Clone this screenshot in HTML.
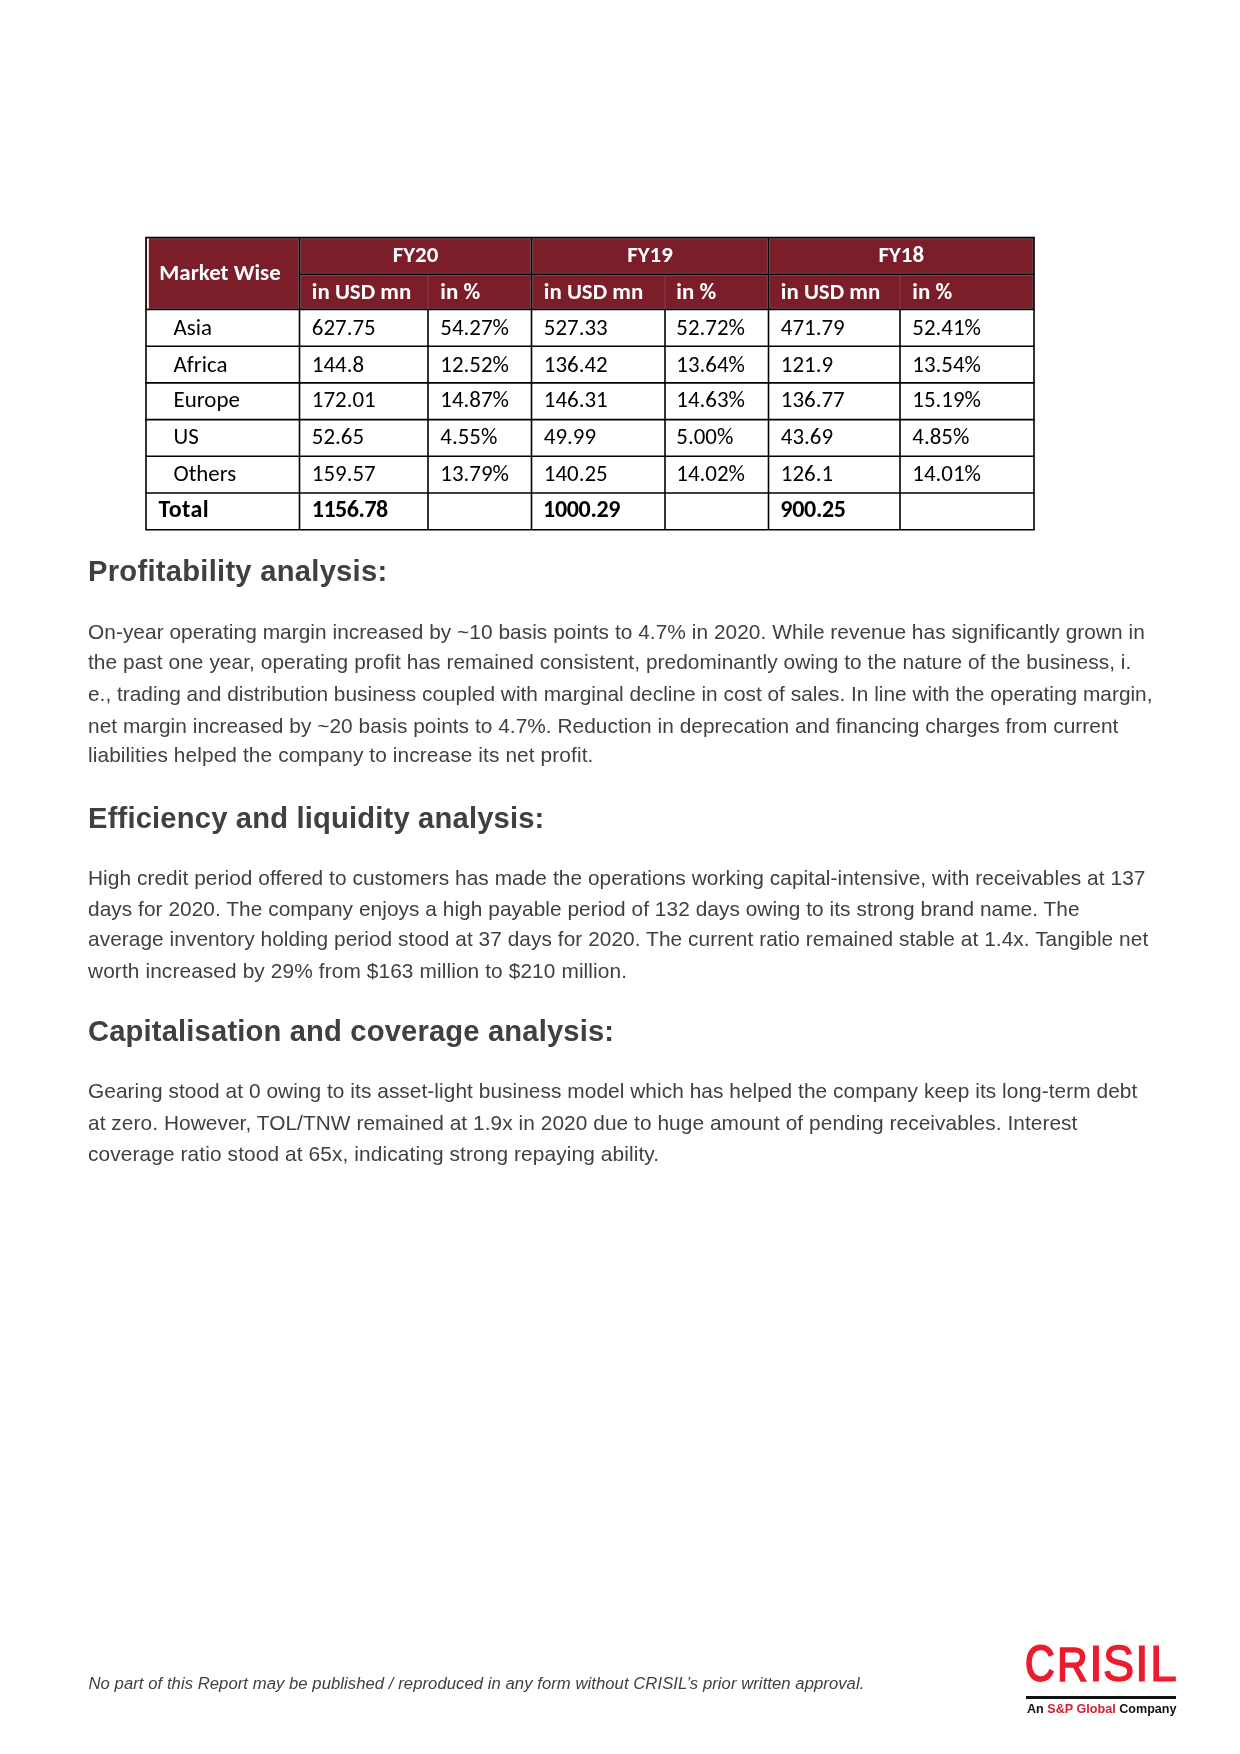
<!DOCTYPE html>
<html lang="en"><head><meta charset="utf-8"><title>CRISIL Report</title>
<style>
*{margin:0;padding:0;box-sizing:border-box}
html,body{width:1240px;height:1754px;background:#fff;overflow:hidden}
body{position:relative}
.page{position:absolute;left:0;top:0;width:1240px;height:1754px;will-change:transform}
.grid{position:absolute;left:0;top:0}
.th,.td{position:absolute;white-space:nowrap;font-family:"Carlito","Liberation Sans",sans-serif;font-size:22.92px;line-height:22.92px}
.th{color:#fff;font-weight:bold}
.td{color:#000}
.b{font-weight:bold}
.c{text-align:center}
.h,.p,.f{position:absolute;white-space:nowrap;font-family:"Liberation Sans",Arial,sans-serif;color:#404040}
.h{font-size:29.17px;line-height:29.17px;font-weight:bold}
.p{font-size:20.83px;line-height:20.83px}
.f{font-size:16.67px;line-height:16.67px;font-style:italic}
.crisil{position:absolute;left:0;top:0;width:1240px;height:0}
.cl{position:absolute;top:0;font-family:"Liberation Sans",Arial,sans-serif;font-size:50px;line-height:50px;color:#ed1b2e;-webkit-text-stroke:1.2px #ed1b2e;white-space:nowrap;transform-origin:0 0}
.bar{position:absolute;left:1026px;top:1696px;width:150px;height:3px;background:#111}
.sp{position:absolute;left:1027px;top:1702px;font-family:"Liberation Sans",Arial,sans-serif;font-weight:bold;font-size:12.6px;line-height:14px;color:#111;white-space:nowrap}
.sp .r{color:#d4202f}
</style></head>
<body>
<div class="page">
<svg class="grid" width="1240" height="600" viewBox="0 0 1240 600"><rect x="146" y="237.5" width="888" height="72.0" fill="#7b1e2a"/><rect x="146.8" y="238.3" width="2" height="70.4" fill="#fff"/><line x1="428" y1="274.4" x2="428" y2="309.5" stroke="#8e3a44" stroke-width="1"/><line x1="665" y1="274.4" x2="665" y2="309.5" stroke="#8e3a44" stroke-width="1"/><line x1="900" y1="274.4" x2="900" y2="309.5" stroke="#8e3a44" stroke-width="1"/><clipPath id="hc"><rect x="148.8" y="237.5" width="885.2" height="72.0"/></clipPath><g clip-path="url(#hc)"><line x1="299.5" y1="274.4" x2="1034" y2="274.4" stroke="#6f4a52" stroke-width="3.4"/><line x1="299.5" y1="237.5" x2="299.5" y2="309.5" stroke="#6f4a52" stroke-width="3.4"/><line x1="531.5" y1="237.5" x2="531.5" y2="309.5" stroke="#6f4a52" stroke-width="3.4"/><line x1="768.5" y1="237.5" x2="768.5" y2="309.5" stroke="#6f4a52" stroke-width="3.4"/><line x1="1034" y1="237.5" x2="1034" y2="309.5" stroke="#6f4a52" stroke-width="3.4"/><line x1="149" y1="237.5" x2="1034" y2="237.5" stroke="#6f4a52" stroke-width="3.4"/><line x1="149" y1="309.5" x2="1034" y2="309.5" stroke="#6f4a52" stroke-width="3.4"/></g><line x1="145.2" y1="237.5" x2="1034.8" y2="237.5" stroke="#000" stroke-width="1.6"/><line x1="299.5" y1="274.4" x2="1034" y2="274.4" stroke="#000" stroke-width="1.2"/><line x1="145.2" y1="309.5" x2="1034.8" y2="309.5" stroke="#000" stroke-width="1.6"/><line x1="145.2" y1="346.2" x2="1034.8" y2="346.2" stroke="#000" stroke-width="1.6"/><line x1="145.2" y1="382.9" x2="1034.8" y2="382.9" stroke="#000" stroke-width="1.6"/><line x1="145.2" y1="419.6" x2="1034.8" y2="419.6" stroke="#000" stroke-width="1.6"/><line x1="145.2" y1="456.3" x2="1034.8" y2="456.3" stroke="#000" stroke-width="1.6"/><line x1="145.2" y1="493.0" x2="1034.8" y2="493.0" stroke="#000" stroke-width="1.6"/><line x1="145.2" y1="529.7" x2="1034.8" y2="529.7" stroke="#000" stroke-width="1.6"/><line x1="146" y1="237.5" x2="146" y2="309.5" stroke="#000" stroke-width="1.6"/><line x1="146" y1="309.5" x2="146" y2="529.7" stroke="#000" stroke-width="1.6"/><line x1="299.5" y1="237.5" x2="299.5" y2="309.5" stroke="#000" stroke-width="1.2"/><line x1="299.5" y1="309.5" x2="299.5" y2="529.7" stroke="#000" stroke-width="1.6"/><line x1="428" y1="309.5" x2="428" y2="529.7" stroke="#000" stroke-width="1.6"/><line x1="531.5" y1="237.5" x2="531.5" y2="309.5" stroke="#000" stroke-width="1.2"/><line x1="531.5" y1="309.5" x2="531.5" y2="529.7" stroke="#000" stroke-width="1.6"/><line x1="665" y1="309.5" x2="665" y2="529.7" stroke="#000" stroke-width="1.6"/><line x1="768.5" y1="237.5" x2="768.5" y2="309.5" stroke="#000" stroke-width="1.2"/><line x1="768.5" y1="309.5" x2="768.5" y2="529.7" stroke="#000" stroke-width="1.6"/><line x1="900" y1="309.5" x2="900" y2="529.7" stroke="#000" stroke-width="1.6"/><line x1="1034" y1="237.5" x2="1034" y2="309.5" stroke="#000" stroke-width="1.6"/><line x1="1034" y1="309.5" x2="1034" y2="529.7" stroke="#000" stroke-width="1.6"/></svg>
<div class="th" style="left:159.30px;top:261.02px">Market Wise</div>
<div class="th c" style="left:299.50px;width:232.00px;top:242.65px">FY20</div>
<div class="th c" style="left:531.50px;width:237.00px;top:242.65px">FY19</div>
<div class="th c" style="left:768.50px;width:265.50px;top:242.65px">FY18</div>
<div class="th" style="left:311.80px;top:280.32px">in USD mn</div>
<div class="th" style="left:440.30px;top:280.32px">in %</div>
<div class="th" style="left:543.80px;top:280.32px">in USD mn</div>
<div class="th" style="left:676.30px;top:280.32px">in %</div>
<div class="th" style="left:780.80px;top:280.32px">in USD mn</div>
<div class="th" style="left:912.30px;top:280.32px">in %</div>
<div class="td" style="left:173.50px;top:316.12px">Asia</div>
<div class="td" style="left:311.80px;top:316.12px">627.75</div>
<div class="td" style="left:440.30px;top:316.12px">54.27%</div>
<div class="td" style="left:543.80px;top:316.12px">527.33</div>
<div class="td" style="left:676.30px;top:316.12px">52.72%</div>
<div class="td" style="left:780.80px;top:316.12px">471.79</div>
<div class="td" style="left:912.30px;top:316.12px">52.41%</div>
<div class="td" style="left:173.50px;top:352.92px">Africa</div>
<div class="td" style="left:311.80px;top:352.92px">144.8</div>
<div class="td" style="left:440.30px;top:352.92px">12.52%</div>
<div class="td" style="left:543.80px;top:352.92px">136.42</div>
<div class="td" style="left:676.30px;top:352.92px">13.64%</div>
<div class="td" style="left:780.80px;top:352.92px">121.9</div>
<div class="td" style="left:912.30px;top:352.92px">13.54%</div>
<div class="td" style="left:173.50px;top:387.92px">Europe</div>
<div class="td" style="left:311.80px;top:387.92px">172.01</div>
<div class="td" style="left:440.30px;top:387.92px">14.87%</div>
<div class="td" style="left:543.80px;top:387.92px">146.31</div>
<div class="td" style="left:676.30px;top:387.92px">14.63%</div>
<div class="td" style="left:780.80px;top:387.92px">136.77</div>
<div class="td" style="left:912.30px;top:387.92px">15.19%</div>
<div class="td" style="left:173.50px;top:424.52px">US</div>
<div class="td" style="left:311.80px;top:424.52px">52.65</div>
<div class="td" style="left:440.30px;top:424.52px">4.55%</div>
<div class="td" style="left:543.80px;top:424.52px">49.99</div>
<div class="td" style="left:676.30px;top:424.52px">5.00%</div>
<div class="td" style="left:780.80px;top:424.52px">43.69</div>
<div class="td" style="left:912.30px;top:424.52px">4.85%</div>
<div class="td" style="left:173.50px;top:461.62px">Others</div>
<div class="td" style="left:311.80px;top:461.62px">159.57</div>
<div class="td" style="left:440.30px;top:461.62px">13.79%</div>
<div class="td" style="left:543.80px;top:461.62px">140.25</div>
<div class="td" style="left:676.30px;top:461.62px">14.02%</div>
<div class="td" style="left:780.80px;top:461.62px">126.1</div>
<div class="td" style="left:912.30px;top:461.62px">14.01%</div>
<div class="td b" id="tot_lab" style="left:158.60px;top:496.90px;font-size:24.0px;line-height:24.0px;letter-spacing:0.400px">Total</div>
<div class="td b" id="tot_1" style="left:311.70px;top:496.90px;font-size:24.0px;line-height:24.0px;letter-spacing:-0.467px">1156.78</div>
<div class="td b" id="tot_3" style="left:543.10px;top:496.90px;font-size:24.0px;line-height:24.0px;letter-spacing:-0.333px">1000.29</div>
<div class="td b" id="tot_5" style="left:780.30px;top:496.90px;font-size:24.0px;line-height:24.0px;letter-spacing:-0.300px">900.25</div>
<div class="h" id="h1" style="left:88.00px;top:556.91px;letter-spacing:0.268px">Profitability analysis:</div>
<div class="p" id="p1_0" style="left:88.00px;top:621.99px;letter-spacing:0.055px">On-year operating margin increased by ~10 basis points to 4.7% in 2020. While revenue has significantly grown in</div>
<div class="p" id="p1_1" style="left:88.00px;top:651.89px;letter-spacing:0.073px">the past one year, operating profit has remained consistent, predominantly owing to the nature of the business, i.</div>
<div class="p" id="p1_2" style="left:88.00px;top:683.79px;letter-spacing:0.014px">e., trading and distribution business coupled with marginal decline in cost of sales. In line with the operating margin,</div>
<div class="p" id="p1_3" style="left:88.00px;top:715.69px;letter-spacing:0.047px">net margin increased by ~20 basis points to 4.7%. Reduction in deprecation and financing charges from current</div>
<div class="p" id="p1_4" style="left:88.00px;top:745.29px;letter-spacing:0.112px">liabilities helped the company to increase its net profit.</div>
<div class="h" id="h2" style="left:88.00px;top:804.01px;letter-spacing:0.179px">Efficiency and liquidity analysis:</div>
<div class="p" id="p2_0" style="left:88.00px;top:867.99px;letter-spacing:0.068px">High credit period offered to customers has made the operations working capital-intensive, with receivables at 137</div>
<div class="p" id="p2_1" style="left:88.00px;top:898.89px;letter-spacing:0.057px">days for 2020. The company enjoys a high payable period of 132 days owing to its strong brand name. The</div>
<div class="p" id="p2_2" style="left:88.00px;top:928.59px;letter-spacing:0.064px">average inventory holding period stood at 37 days for 2020. The current ratio remained stable at 1.4x. Tangible net</div>
<div class="p" id="p2_3" style="left:88.00px;top:960.59px;letter-spacing:0.116px">worth increased by 29% from $163 million to $210 million.</div>
<div class="h" id="h3" style="left:88.00px;top:1016.91px;letter-spacing:0.164px">Capitalisation and coverage analysis:</div>
<div class="p" id="p3_0" style="left:88.00px;top:1080.69px;letter-spacing:0.066px">Gearing stood at 0 owing to its asset-light business model which has helped the company keep its long-term debt</div>
<div class="p" id="p3_1" style="left:88.00px;top:1112.69px;letter-spacing:0.071px">at zero. However, TOL/TNW remained at 1.9x in 2020 due to huge amount of pending receivables. Interest</div>
<div class="p" id="p3_2" style="left:88.00px;top:1144.09px;letter-spacing:0.122px">coverage ratio stood at 65x, indicating strong repaying ability.</div>
<div class="f" id="foot" style="left:88.50px;top:1675.53px;letter-spacing:0.056px">No part of this Report may be published / reproduced in any form without CRISIL’s prior written approval.</div>
<div class="crisil"><span class="cl" style="left:1025.01px;top:1639.55px;-webkit-text-stroke-width:2.0px;transform:scale(0.8195,0.9861)">C</span><span class="cl" style="left:1057.22px;top:1640.00px;-webkit-text-stroke-width:1.7px;transform:scale(0.8517,0.9737)">R</span><span class="cl" style="left:1088.90px;top:1639.68px;-webkit-text-stroke-width:1.2px;transform:scale(1.0000,0.9867)">I</span><span class="cl" style="left:1103.44px;top:1639.46px;-webkit-text-stroke-width:1.3px;transform:scale(0.9343,0.9938)">S</span><span class="cl" style="left:1135.07px;top:1639.68px;-webkit-text-stroke-width:1.2px;transform:scale(0.9831,0.9867)">I</span><span class="cl" style="left:1149.81px;top:1639.68px;-webkit-text-stroke-width:1.2px;transform:scale(0.9639,0.9867)">L</span></div>
<div class="bar"></div>
<div class="sp">An <span class="r">S&amp;P Global</span> Company</div>
</div>
</body></html>
